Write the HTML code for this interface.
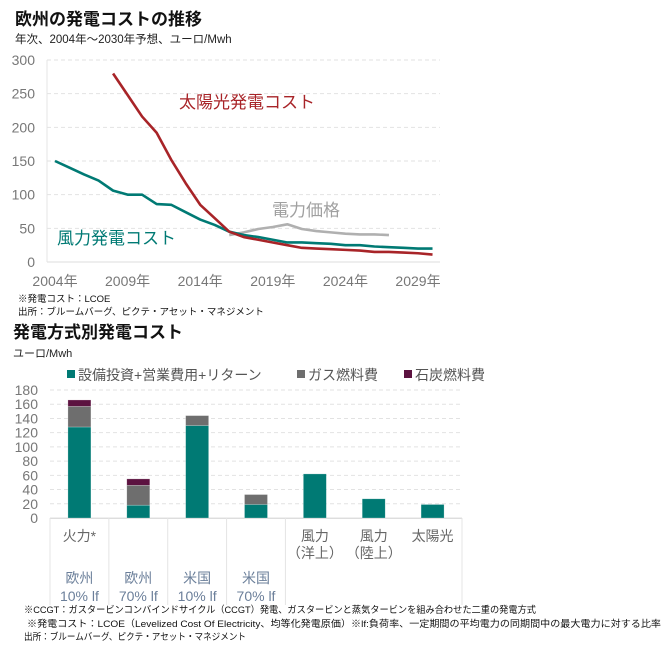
<!DOCTYPE html>
<html><head><meta charset="utf-8">
<style>
body{margin:0;background:#fff;}
svg{display:block;font-family:"Liberation Sans","Noto Sans CJK JP",sans-serif;}
</style></head>
<body>
<svg id="s" width="669" height="649" viewBox="0 0 669 649" xmlns="http://www.w3.org/2000/svg">
<text x="15" y="25" font-size="17" font-weight="bold" fill="#111">欧州の発電コストの推移</text>
<text x="15" y="43" font-size="11.5" fill="#222">年次、2004年～2030年予想、ユーロ/Mwh</text>
<g id="topChart"></g>
<text x="18" y="302" font-size="9.5" fill="#111">※発電コスト：LCOE</text>
<text x="18" y="315" font-size="9.5" fill="#111">出所：ブルームバーグ、ピクテ・アセット・マネジメント</text>
<text x="13" y="338" font-size="17" font-weight="bold" fill="#111">発電方式別発電コスト</text>
<text x="13" y="357" font-size="11" fill="#222">ユーロ/Mwh</text>
<g id="botChart"></g>
<text x="24" y="613" font-size="9.5" fill="#111" textLength="512" lengthAdjust="spacingAndGlyphs">※CCGT：ガスタービンコンバインドサイクル（CCGT）発電、ガスタービンと蒸気タービンを組み合わせた二重の発電方式</text>
<text x="27" y="627" font-size="9.5" fill="#111" textLength="634" lengthAdjust="spacingAndGlyphs">※発電コスト：LCOE（Levelized Cost Of Electricity、均等化発電原価）※lf:負荷率、一定期間の平均電力の同期間中の最大電力に対する比率</text>
<text x="24" y="640" font-size="9.5" fill="#111" textLength="222" lengthAdjust="spacingAndGlyphs">出所：ブルームバーグ、ピクテ・アセット・マネジメント</text>
</svg>
<script>
// ---- line chart data ----
const years = [2004,2005,2006,2007,2008,2009,2010,2011,2012,2013,2014,2015,2016,2017,2018,2019,2020,2021,2022,2023,2024,2025,2026,2027,2028,2029,2030];
const windCost = [150,140,130,121,106,100,100,86,85,74,63,55,45,40,37,33,29,29,28,27,25,25,23,22,21,20,20];
const solarYears = [2008,2009,2010,2011,2012,2013,2014,2015,2016,2017,2018,2019,2020,2021,2022,2023,2024,2025,2026,2027,2028,2029,2030];
const solarCost = [280,248,216,192,152,117,85,65,45,37,33,29,25,21,20,19,18,17,15,15,14,13,11];
const priceYears = [2016,2017,2018,2019,2020,2021,2022,2023,2024,2025,2026,2027];
const powerPrice = [40,44,49,52,56,49,46,44,42,41,41,40];
const yTicks = [0,50,100,150,200,250,300];
const xTickYears = [2004,2009,2014,2019,2024,2029];

// ---- bar chart data ----
const barCats = ['c1','c2','c3','c4','c5','c6','c7'];
const capexOpex = [128,18,130,19,62,27,19];
const gasFuel = [29,28,14,14,0,0,0];
const coalFuel = [9,9,0,0,0,0,0];
const barTicks = [0,20,40,60,80,100,120,140,160,180];

const NS='http://www.w3.org/2000/svg';
function mk(parent,tag,attrs,txt){const e=document.createElementNS(NS,tag);for(const k in attrs)e.setAttribute(k,attrs[k]);if(txt!==undefined)e.textContent=txt;parent.appendChild(e);return e;}

// top chart
const topG=document.getElementById('topChart');
const tx=y=>55+(y-2004)*14.52;
const ty=v=>262-v*(202/300);
yTicks.forEach(v=>{
  const l=mk(topG,'line',{x1:47,x2:440,y1:ty(v),y2:ty(v),stroke:v===0?'#ddd':'#e2e2e2','stroke-width':1,'stroke-dasharray':v===0?'none':'4,3'});
  
  
  const t=mk(topG,'text',{x:35,y:ty(v)+5,'text-anchor':'end','font-size':14,fill:'#777'},String(v));
  
  
});
const ax=mk(topG,'line',{x1:47,x2:47,y1:60,y2:262,stroke:'#e4e4e4'});


xTickYears.forEach(y=>{
  const t=mk(topG,'text',{x:tx(y),y:286,'text-anchor':'middle','font-size':14,fill:'#777'},y+'年');
  
  
});
function line(xs,vs,color,name){
  const p=mk(topG,'polyline',{points:xs.map((x,i)=>tx(x)+','+ty(vs[i])).join(' '),fill:'none',stroke:color,'stroke-width':2.6,'stroke-linejoin':'round'});
  
  
}
line(priceYears,powerPrice,'#b0b0b0','power-price-line');
line(years,windCost,'#007a74','wind-cost-line');
line(solarYears,solarCost,'#a82428','solar-cost-line');
let lb=mk(topG,'text',{x:179,y:108,'font-size':17,fill:'#a82428'},'太陽光発電コスト');


lb=mk(topG,'text',{x:272,y:216,'font-size':17,fill:'#a0a0a0'},'電力価格');


lb=mk(topG,'text',{x:57,y:244,'font-size':17,fill:'#007a74'},'風力発電コスト');



// bottom chart
const botG=document.getElementById('botChart');
const bx0=50,bx1=462,cw=(bx1-bx0)/barCats.length,bw=23;
const by=v=>518-v*(128/180);
barTicks.forEach(v=>{
  const l=mk(botG,'line',{x1:bx0,x2:bx1,y1:by(v),y2:by(v),stroke:'#e2e2e2','stroke-dasharray':v===0?'none':'4,3'});
  
  
  const t=mk(botG,'text',{x:38,y:by(v)+5,'text-anchor':'end','font-size':14,fill:'#777'},String(v));
  
  
});
const baseline=mk(botG,'line',{x1:bx0,x2:bx1,y1:518.5,y2:518.5,stroke:'#ddd'});


[0,1,2,3,4,7].forEach(i=>{
  const l=mk(botG,'line',{x1:bx0+i*cw,x2:bx0+i*cw,y1:518,y2:605,stroke:'#e4e4e4'});
  
  
});
barCats.forEach((c,i)=>{
  const cx=bx0+cw*(i+0.5);
  let base=0;
  [[capexOpex,'#007a74','bar-capex'],[gasFuel,'#6e6e6e','bar-gas'],[coalFuel,'#5c1240','bar-coal']].forEach(([arr,col,nm])=>{
    const v=arr[i];
    if(v>0){
      const r=mk(botG,'rect',{x:cx-bw/2,y:by(base+v),width:bw,height:by(base)-by(base+v),fill:col,stroke:'#fff','stroke-opacity':0.4,'stroke-width':0.6});
      
      
    }
    base+=v;
  });
});
const catLabels=[['火力*','','欧州','10% lf'],['','','欧州','70% lf'],['','','米国','10% lf'],['','','米国','70% lf'],['風力','（洋上）','',''],['風力','（陸上）','',''],['太陽光','','','']];
const rowY=[541,558,583,601];
catLabels.forEach((rows,i)=>{
  const cx=bx0+cw*(i+0.5);
  rows.forEach((s,j)=>{
    if(!s)return;
    const t=mk(botG,'text',{x:cx,y:rowY[j],'text-anchor':'middle','font-size':14,fill:j>=2?'#6b7f9a':'#666'},s);
    
    
  });
});
const leg=[['#007a74',67,'設備投資+営業費用+リターン'],['#6e6e6e',297,'ガス燃料費'],['#5c1240',404,'石炭燃料費']];
leg.forEach(([col,x,s])=>{
  const r=mk(botG,'rect',{x:x,y:370,width:8,height:8,fill:col});
  
  
  const t=mk(botG,'text',{x:x+11,y:380,'font-size':14,fill:'#555'},s);
  
  
});
</script>
</body></html>
